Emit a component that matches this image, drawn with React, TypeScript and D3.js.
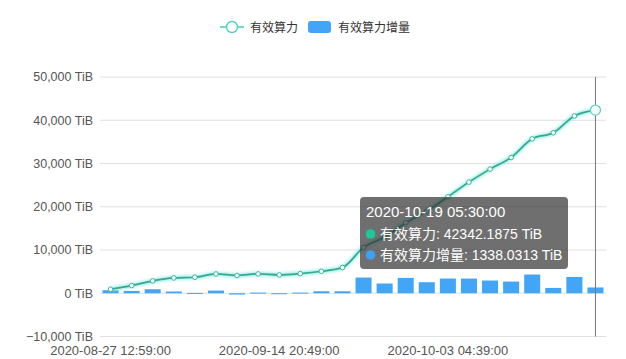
import React from "react";
import * as d3 from "d3";

const categories: string[] = [
  "2020-08-27 12:59:00", "2020-08-29 19:57:00", "2020-09-01 02:55:00", "2020-09-03 09:53:00",
  "2020-09-05 16:51:00", "2020-09-07 23:49:00", "2020-09-10 06:47:00", "2020-09-12 13:45:00",
  "2020-09-14 20:49:00", "2020-09-17 03:47:00", "2020-09-19 10:45:00", "2020-09-21 17:43:00",
  "2020-09-24 00:41:00", "2020-09-26 07:39:00", "2020-09-28 14:37:00", "2020-09-30 21:35:00",
  "2020-10-03 04:39:00", "2020-10-05 11:37:00", "2020-10-07 18:35:00", "2020-10-10 01:33:00",
  "2020-10-12 08:31:00", "2020-10-14 15:29:00", "2020-10-16 22:27:00", "2020-10-19 05:30:00",
];

const powerValues: number[] = [
  930, 1780, 2850, 3540, 3700, 4470, 4100, 4470, 4240, 4550, 5090, 5950,
  10600, 13000, 16300, 19000, 22300, 25700, 28700, 31400, 35700, 37100, 41000, 42342.1875,
];

const incrementValues: number[] = [
  700, 530, 930, 400, 80, 620, -300, 150, -200, 150, 460, 460,
  3630, 2250, 3550, 2550, 3400, 3400, 2940, 2700, 4330, 1230, 3770, 1338.0313,
];

const yTicks: number[] = [-10000, 0, 10000, 20000, 30000, 40000, 50000];

const seriesNames = ["有效算力", "有效算力增量"];

const FONT = "'Liberation Sans', 'Noto Sans CJK SC', sans-serif";

export default function App() {
  const W = 626, H = 359;
  const left = 100, right = 606, top = 77, bottom = 336.5;
  const x = d3.scaleBand<string>().domain(categories).range([left, right]).padding(0);
  const bw = x.bandwidth();
  const cx = (c: string) => (x(c) as number) + bw / 2;
  const y = d3.scaleLinear().domain([-10000, 50000]).range([bottom, top]);
  const fmt = d3.format(",");

  const line = d3
    .line<number>()
    .x((_, i) => cx(categories[i]))
    .y((d) => y(d))
    .curve(d3.curveMonotoneX);
  const path = line(powerValues) || "";

  const barW = bw * 0.76;
  const hoverIdx = categories.length - 1;
  const hx = cx(categories[hoverIdx]);

  return (
    <svg
      width={W}
      height={H}
      style={{ position: "absolute", left: 0, top: 0, background: "#fff" }}
      fontFamily={FONT}
    >
      <defs>
        <filter id="glow" x="-10%" y="-50%" width="120%" height="200%">
          <feGaussianBlur stdDeviation="1.5" />
        </filter>
      </defs>
      <rect x={0} y={0} width={W} height={H} fill="#fff" />

      {/* legend */}
      <g>
        <line x1={220} x2={244} y1={27} y2={27} stroke="#4fd0c0" strokeWidth={1.6} />
        <circle cx={232} cy={27} r={5.5} fill="#fff" stroke="#4fd0c0" strokeWidth={1.4} />
        <text x={250} y={31.5} fontSize={12} fill="#333">{seriesNames[0]}</text>
        <rect x={308} y={21} width={23} height={12} rx={3} fill="#42a5f5" />
        <text x={338} y={31.5} fontSize={12} fill="#333">{seriesNames[1]}</text>
      </g>

      {/* grid + y labels */}
      {yTicks.map((t) => (
        <g key={t}>
          <line x1={left} x2={right} y1={y(t)} y2={y(t)} stroke="#e0e0e0" strokeWidth={1} />
          <text x={93} y={y(t)} dy="0.35em" textAnchor="end" fontSize={12.5} fill="#555">
            {fmt(t) + " TiB"}
          </text>
        </g>
      ))}

      {/* x labels */}
      {categories.map((c, i) =>
        i % 8 === 0 ? (
          <text key={c} x={cx(c)} y={354.5} textAnchor="middle" fontSize={13} fill="#555">
            {c}
          </text>
        ) : null
      )}

      {/* bars */}
      {incrementValues.map((v, i) => {
        const y0 = y(0);
        const yv = y(v);
        return (
          <rect
            key={i}
            x={cx(categories[i]) - barW / 2}
            y={Math.min(y0, yv)}
            width={barW}
            height={Math.max(Math.abs(yv - y0), 1)}
            fill="#42a5f5"
          />
        );
      })}

      {/* cursor line */}
      <line x1={hx} x2={hx} y1={top} y2={bottom} stroke="#777" strokeWidth={1} />

      {/* line with glow */}
      <path d={path} fill="none" stroke="#7de9e2" strokeWidth={4} opacity={0.8} filter="url(#glow)" />
      <path d={path} fill="none" stroke="#36a88f" strokeWidth={1.7} />
      {powerValues.map((v, i) =>
        i === hoverIdx ? null : (
          <circle key={i} cx={cx(categories[i])} cy={y(v)} r={2.3} fill="#fff" stroke="#3fb59c" strokeWidth={1} />
        )
      )}
      <circle cx={hx} cy={y(powerValues[hoverIdx])} r={5} fill="#fff" stroke="#5fd3c4" strokeWidth={1.3} />

      {/* tooltip */}
      <g>
        <rect x={360} y={197} width={208} height={72} rx={4} fill="rgba(50,50,50,0.7)" />
        <text x={366} y={216.5} fontSize={15} fill="#fff">{categories[hoverIdx]}</text>
        <circle cx={370.5} cy={234} r={4.8} fill="#1ec79a" />
        <text x={380} y={239} fontSize={14} fill="#fff">
          {seriesNames[0] + ": " + powerValues[hoverIdx] + " TiB"}
        </text>
        <circle cx={370.5} cy={255} r={4.8} fill="#3fa0f0" />
        <text x={380} y={260} fontSize={14} fill="#fff">
          {seriesNames[1] + ": " + incrementValues[hoverIdx] + " TiB"}
        </text>
      </g>
    </svg>
  );
}
